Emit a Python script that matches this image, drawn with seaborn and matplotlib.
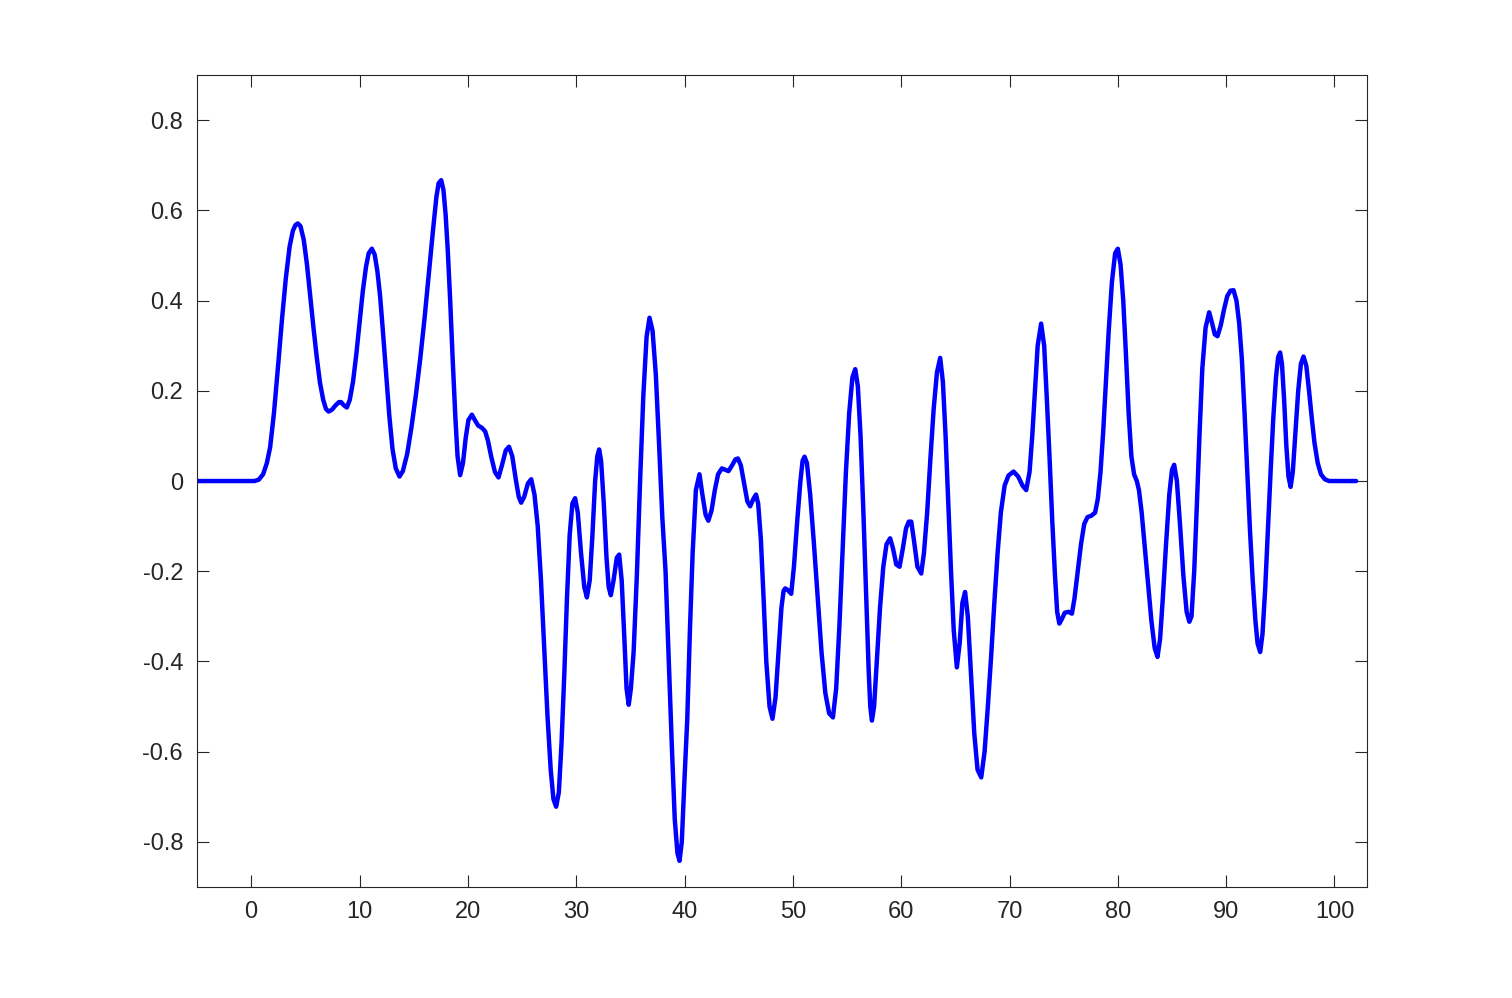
"""Signal trace, MATLAB-style axes."""

import matplotlib

matplotlib.use("Agg")

import matplotlib.pyplot as plt
import pandas as pd
import seaborn as sns

# curve samples (time, amplitude)
t = [
    -5.0, 0.3, 0.7, 1.1, 1.45, 1.75, 2.1, 2.5, 2.85, 3.2,
    3.55, 3.85, 4.1, 4.31, 4.55, 4.85, 5.15, 5.45, 5.75, 6.05,
    6.35, 6.65, 6.9, 7.14, 7.45, 7.8, 8.1, 8.3, 8.55, 8.83,
    9.1, 9.4, 9.7, 10.0, 10.3, 10.6, 10.85, 11.14, 11.4, 11.65,
    11.9, 12.15, 12.45, 12.75, 13.05, 13.35, 13.69, 14.0, 14.4, 14.8,
    15.2, 15.6, 16.0, 16.4, 16.8, 17.1, 17.3, 17.54, 17.75, 17.95,
    18.15, 18.37, 18.6, 18.85, 19.05, 19.29, 19.55, 19.8, 20.05, 20.37,
    20.65, 20.95, 21.3, 21.6, 21.85, 22.15, 22.5, 22.83, 23.15, 23.5,
    23.8, 24.1, 24.45, 24.7, 24.92, 25.2, 25.55, 25.85, 26.15, 26.45,
    26.75, 27.05, 27.35, 27.65, 27.9, 28.15, 28.4, 28.65, 28.9, 29.15,
    29.4, 29.65, 29.9, 30.15, 30.45, 30.75, 30.99, 31.25, 31.5, 31.75,
    31.95, 32.12, 32.3, 32.55, 32.8, 33.0, 33.2, 33.45, 33.75, 33.97,
    34.2, 34.45, 34.65, 34.85, 35.05, 35.3, 35.6, 35.9, 36.2, 36.5,
    36.77, 37.05, 37.35, 37.65, 37.95, 38.25, 38.55, 38.85, 39.1, 39.35,
    39.54, 39.75, 40.0, 40.25, 40.5, 40.75, 41.05, 41.38, 41.65, 41.95,
    42.2, 42.5, 42.8, 43.1, 43.45, 43.75, 44.06, 44.4, 44.7, 44.93,
    45.2, 45.5, 45.8, 46.06, 46.35, 46.6, 46.8, 47.05, 47.3, 47.55,
    47.85, 48.12, 48.4, 48.7, 48.95, 49.15, 49.3, 49.55, 49.85, 50.1,
    50.4, 50.7, 50.9, 51.08, 51.3, 51.6, 51.95, 52.3, 52.65, 53.0,
    53.35, 53.7, 54.0, 54.3, 54.6, 54.9, 55.2, 55.5, 55.76, 56.0,
    56.25, 56.5, 56.75, 57.0, 57.15, 57.3, 57.5, 57.75, 58.05, 58.35,
    58.65, 58.98, 59.25, 59.55, 59.85, 60.15, 60.45, 60.7, 60.93, 61.2,
    61.5, 61.85, 62.1, 62.4, 62.7, 63.0, 63.3, 63.6, 63.85, 64.1,
    64.35, 64.6, 64.85, 65.14, 65.4, 65.65, 65.9, 66.15, 66.45, 66.75,
    67.05, 67.39, 67.7, 68.0, 68.3, 68.6, 68.9, 69.2, 69.55, 69.9,
    70.37, 70.8, 71.2, 71.54, 71.85, 72.1, 72.35, 72.6, 72.92, 73.2,
    73.45, 73.7, 73.95, 74.2, 74.4, 74.6, 74.85, 75.1, 75.45, 75.76,
    76.0, 76.3, 76.6, 76.9, 77.2, 77.55, 77.9, 78.15, 78.4, 78.65,
    78.9, 79.15, 79.45, 79.75, 80.0, 80.25, 80.5, 80.75, 81.0, 81.25,
    81.5, 81.75, 81.95, 82.2, 82.5, 82.8, 83.1, 83.4, 83.66, 83.9,
    84.15, 84.45, 84.75, 85.0, 85.2, 85.45, 85.75, 86.05, 86.35, 86.6,
    86.8, 87.05, 87.3, 87.55, 87.8, 88.1, 88.43, 88.7, 88.95, 89.2,
    89.5, 89.8, 90.1, 90.4, 90.68, 90.95, 91.2, 91.45, 91.7, 91.95,
    92.2, 92.45, 92.7, 92.9, 93.14, 93.35, 93.6, 93.85, 94.1, 94.35,
    94.6, 94.8, 94.98, 95.15, 95.35, 95.55, 95.75, 95.95, 96.15, 96.4,
    96.65, 96.9, 97.14, 97.4, 97.65, 97.9, 98.15, 98.45, 98.75, 99.1,
    99.5, 100.5, 102.0,
]
amp = [
    0.0, 0.0, 0.003, 0.015, 0.04, 0.075, 0.15, 0.26, 0.36, 0.45,
    0.52, 0.555, 0.568, 0.571, 0.565, 0.535, 0.48, 0.41, 0.34, 0.275,
    0.218, 0.18, 0.16, 0.154, 0.158, 0.168, 0.175, 0.175, 0.168, 0.163,
    0.18, 0.22, 0.28, 0.35, 0.42, 0.475, 0.505, 0.515, 0.502, 0.465,
    0.41, 0.335, 0.24, 0.145, 0.07, 0.028, 0.01, 0.022, 0.06, 0.12,
    0.19, 0.27, 0.36, 0.46, 0.56, 0.63, 0.66, 0.667, 0.645, 0.59,
    0.51, 0.4, 0.27, 0.14, 0.055, 0.013, 0.04, 0.095, 0.135, 0.147,
    0.135, 0.123, 0.118, 0.11, 0.09, 0.055, 0.02, 0.008, 0.035, 0.068,
    0.076, 0.055, 0.0, -0.035, -0.048, -0.035, -0.005, 0.004, -0.03, -0.1,
    -0.22, -0.37, -0.52, -0.64, -0.705, -0.722, -0.69, -0.58, -0.43, -0.26,
    -0.12, -0.05, -0.038, -0.07, -0.16, -0.235, -0.258, -0.22, -0.12, 0.0,
    0.055, 0.07, 0.045, -0.05, -0.17, -0.235, -0.253, -0.22, -0.17, -0.163,
    -0.22, -0.35, -0.46, -0.496, -0.46, -0.38, -0.21, 0.0, 0.19, 0.32,
    0.362, 0.333, 0.237, 0.083, -0.08, -0.2, -0.4, -0.6, -0.75, -0.825,
    -0.842, -0.8, -0.66, -0.53, -0.33, -0.16, -0.02, 0.015, -0.03, -0.075,
    -0.088, -0.065, -0.02, 0.015, 0.028, 0.025, 0.022, 0.035, 0.048, 0.05,
    0.035, -0.005, -0.045, -0.056, -0.04, -0.03, -0.05, -0.13, -0.26, -0.4,
    -0.5, -0.527, -0.48, -0.37, -0.28, -0.243, -0.238, -0.242, -0.25, -0.19,
    -0.09, 0.0, 0.045, 0.054, 0.04, -0.03, -0.14, -0.26, -0.38, -0.47,
    -0.515, -0.524, -0.46, -0.32, -0.15, 0.02, 0.15, 0.23, 0.248, 0.21,
    0.1, -0.06, -0.24, -0.42, -0.5, -0.531, -0.5, -0.4, -0.28, -0.19,
    -0.14, -0.127, -0.15, -0.185, -0.19, -0.15, -0.105, -0.09, -0.09, -0.135,
    -0.19, -0.205, -0.16, -0.07, 0.05, 0.16, 0.24, 0.273, 0.22, 0.1,
    -0.05, -0.2, -0.33, -0.413, -0.36, -0.27, -0.246, -0.3, -0.43, -0.56,
    -0.64, -0.657, -0.6, -0.5, -0.39, -0.27, -0.16, -0.07, -0.01, 0.012,
    0.021, 0.01, -0.01, -0.02, 0.02, 0.1, 0.2, 0.3, 0.349, 0.3,
    0.18, 0.05, -0.09, -0.21, -0.29, -0.316, -0.305, -0.292, -0.29, -0.294,
    -0.26, -0.2, -0.14, -0.095, -0.08, -0.077, -0.07, -0.04, 0.02, 0.11,
    0.22, 0.33, 0.44, 0.505, 0.515, 0.48, 0.4, 0.28, 0.15, 0.055,
    0.015, 0.0, -0.02, -0.07, -0.15, -0.23, -0.31, -0.37, -0.39, -0.35,
    -0.26, -0.14, -0.03, 0.025, 0.036, 0.0, -0.1, -0.21, -0.29, -0.312,
    -0.3, -0.2, -0.05, 0.11, 0.25, 0.34, 0.374, 0.35, 0.325, 0.321,
    0.345, 0.38, 0.41, 0.422, 0.423, 0.4, 0.35, 0.27, 0.15, 0.02,
    -0.11, -0.22, -0.31, -0.36, -0.379, -0.34, -0.24, -0.11, 0.02, 0.14,
    0.23, 0.275, 0.285, 0.26, 0.18, 0.08, 0.01, -0.013, 0.02, 0.11,
    0.2, 0.26, 0.276, 0.255, 0.2, 0.14, 0.085, 0.04, 0.015, 0.004,
    0.0, 0.0, 0.0,
]

x_ticks = [0, 10, 20, 30, 40, 50, 60, 70, 80, 90, 100]
y_ticks = [-0.8, -0.6, -0.4, -0.2, 0, 0.2, 0.4, 0.6, 0.8]
y_tick_labels = ["-0.8", "-0.6", "-0.4", "-0.2", "0", "0.2", "0.4", "0.6", "0.8"]

sns.set_theme(style="white")
plt.rcParams["font.family"] = ["Liberation Sans", "DejaVu Sans"]
plt.rcParams["axes.unicode_minus"] = False

ink = (0.15, 0.15, 0.15)
df = pd.DataFrame({"t": t, "amp": amp})

fig = plt.figure(figsize=(15.12, 9.98), dpi=100)
ax = fig.add_axes([0.1303, 0.1112, 0.7738, 0.8136])
sns.lineplot(data=df, x="t", y="amp", color="#0000ff", linewidth=3.2, ax=ax, sort=False)
ax.lines[0].set_solid_joinstyle("round")

ax.set_xlim(-5, 103)
ax.set_ylim(-0.9, 0.9)
ax.set_xticks(x_ticks)
ax.set_xticklabels([str(v) for v in x_ticks])
ax.set_yticks(y_ticks)
ax.set_yticklabels(y_tick_labels)
ax.set_xlabel("")
ax.set_ylabel("")
ax.tick_params(direction="in", length=8.5, width=0.8, colors=ink, labelsize=17,
               top=True, right=True, bottom=True, left=True, pad=10)
for side in ax.spines.values():
    side.set_color(ink)
    side.set_linewidth(0.8)
    side.set_visible(True)

fig.savefig("out.png", dpi=100)
plt.close(fig)
